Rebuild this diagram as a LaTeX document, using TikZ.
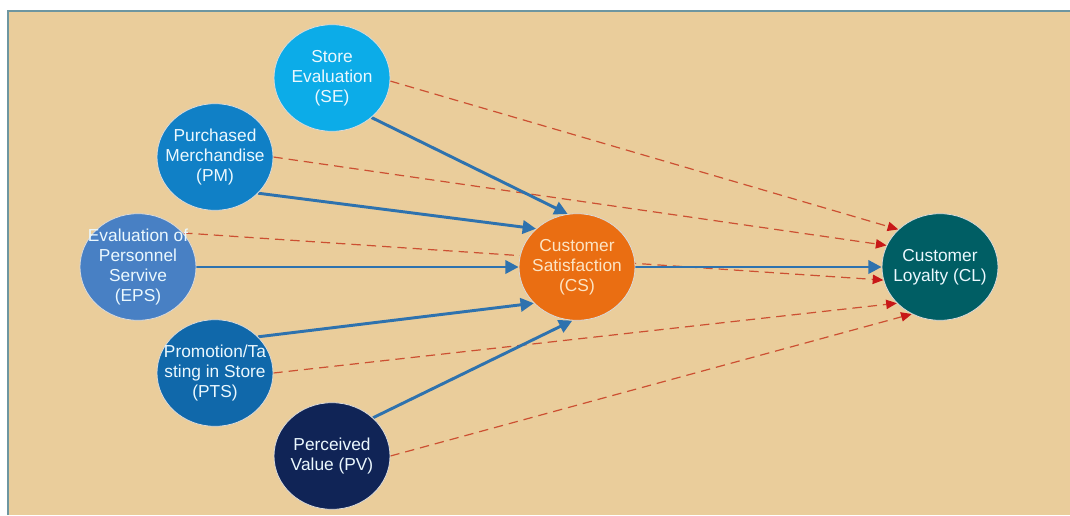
\documentclass[tikz,border=0pt]{standalone}
\usepackage{fontspec}
\setmainfont{Liberation Sans}
\usetikzlibrary{arrows.meta,shapes.geometric}

\definecolor{sand}{RGB}{234,205,155}
\definecolor{frame}{RGB}{110,150,160}
\definecolor{seblue}{RGB}{12,172,232}
\definecolor{pmblue}{RGB}{16,128,198}
\definecolor{epsblue}{RGB}{72,128,196}
\definecolor{ptsblue}{RGB}{16,104,170}
\definecolor{pvnavy}{RGB}{16,36,86}
\definecolor{csorange}{RGB}{234,110,18}
\definecolor{clteal}{RGB}{0,94,100}
\definecolor{linkblue}{RGB}{46,114,174}
\definecolor{dashred}{RGB}{204,80,50}
\definecolor{tipred}{RGB}{200,24,24}

\pgfdeclarelayer{back}
\pgfdeclarelayer{edges}
\pgfsetlayers{back,edges,main}

\begin{document}
\begin{tikzpicture}[x=0.75pt,y=-0.75pt,
  construct/.style={ellipse, draw=white!70!gray, line width=.6pt, minimum width=87pt,
    minimum height=80pt, inner xsep=-14pt, inner ysep=-10pt, align=center,
    text=white!92!cyan, font=\fontsize{13}{15}\selectfont},
  direct/.style={draw=linkblue, line width=2.2pt, -{Triangle[length=10pt,width=10pt]}},
  indirect/.style={draw=dashred, line width=.9pt, dash pattern=on 7pt off 4.5pt,
    -{Triangle[length=8pt,width=7pt,color=tipred]}}]
 \useasboundingbox (0,0) rectangle (1070,515);
 \begin{pgfonlayer}{back}
   \fill[sand] (8,11) rectangle (1070,515);
   \draw[frame, line width=1.2pt] (8,515) -- (8,11) -- (1070,11);
 \end{pgfonlayer}

 % antecedents
 \node[construct, fill=seblue]  (SE)  at (332,78)  {Store\\Evaluation\\(SE)};
 \node[construct, fill=pmblue]  (PM)  at (215,157) {Purchased\\Merchandise\\(PM)};
 \node[construct, fill=epsblue] (EPS) at (138,267) {Evaluation of\\Personnel\\Servive\\(EPS)};
 \node[construct, fill=ptsblue] (PTS) at (215,373) {Promotion/Ta\\sting in Store\\(PTS)};
 \node[construct, fill=pvnavy]  (PV)  at (332,456) {Perceived\\Value (PV)};
 % mediator and outcome
 \node[construct, fill=csorange, text={rgb,255:red,252;green,228;blue,196}] (CS) at (577,267) {Customer\\Satisfaction\\(CS)};
 \node[construct, fill=clteal]  (CL)  at (940,267) {Customer\\Loyalty (CL)};

 \begin{pgfonlayer}{edges}
   \draw[indirect] (SE.-3)  -- (CL.138);
   \draw[indirect] (PM.0)   -- (CL.158);
   \draw[indirect] (EPS.37) -- (CL.193);
   \draw[indirect] (PTS.0)  -- (CL.220);
   \draw[indirect] (PV.0)   -- (CL.239);

   \draw[direct] (SE.-45) -- (CS.100);
   \draw[direct] (PM.-40) -- (CS.137);
   \draw[direct] (EPS)    -- (CS);
   \draw[direct] (PTS.40) -- (CS.220);
   \draw[direct] (PV.43)  -- (CS.265);
   \draw[direct] (CS)     -- (CL);
 \end{pgfonlayer}
\end{tikzpicture}
\end{document}
